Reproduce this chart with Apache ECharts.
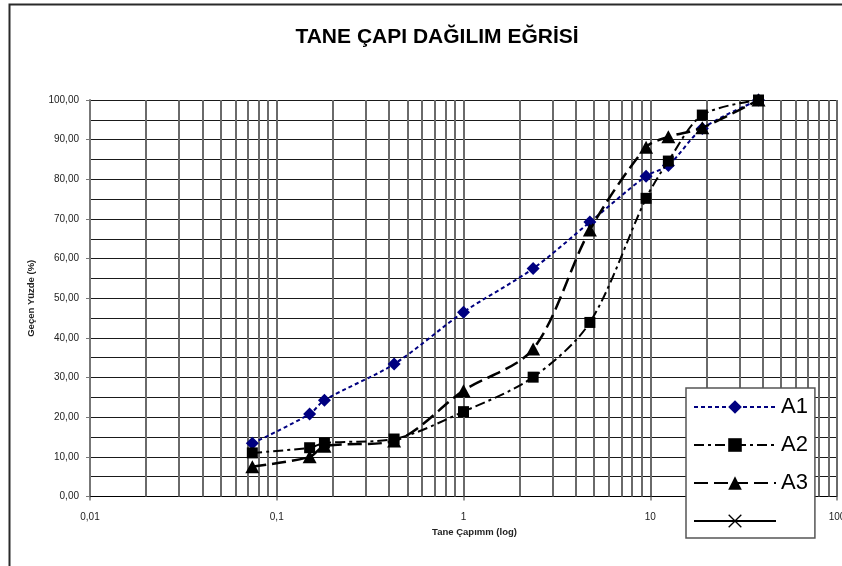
<!DOCTYPE html>
<html>
<head>
<meta charset="utf-8">
<title>TANE ÇAPI DAĞILIM EĞRİSİ</title>
<script src="https://cdn.jsdelivr.net/npm/echarts@6/dist/echarts.min.js"></script>
<style>
  html, body { margin: 0; padding: 0; background: #fff; }
  #chart { width: 842px; height: 566px; }
</style>
</head>
<body>
<div id="chart"></div>
<script>
// Sieve openings (mm) and percent passing for each sample
const sieveSizes = [0.074, 0.15, 0.18, 0.425, 1.0, 2.36, 4.75, 9.5, 12.5, 19, 38];
const passA1 = [13.4, 20.8, 24.3, 33.4, 46.5, 57.5, 69.2, 80.8, 83.5, 92.8, 100];
const passA2 = [11.0, 12.3, 13.5, 14.5, 21.4, 30.1, 43.9, 75.2, 84.6, 96.2, 100];
const passA3 = [7.5, 10.0, 12.7, 14.0, 26.7, 37.2, 67.2, 88.1, 90.7, 93.0, 100];
const passA4 = [];

// Axis ranges and log-paper grid
const xMin = 0.01, xMax = 100;
const decades = [0.01, 0.1, 1, 10];
const subMultipliers = [2, 3, 4, 5, 6, 7, 8, 9];

const titleText = 'TANE ÇAPI DAĞILIM EĞRİSİ';
const xName = 'Tane Çapımm (log)';
const yName = 'Geçen Yüzde (%)';
const seriesNames = ['A1', 'A2', 'A3', ' '];

const pairs = (xs, ys) => ys.map((y, i) => [xs[i], y]);

const minorLines = [];
decades.forEach(d => subMultipliers.forEach(m => minorLines.push({ xAxis: +(d * m).toPrecision(6) })));

const fmtComma = v => String(+(+v).toPrecision(6)).replace('.', ',');

const chart = echarts.init(document.getElementById('chart'), null, { renderer: 'canvas' });

chart.setOption({
  animation: false,
  backgroundColor: '#fff',
  textStyle: { fontFamily: 'Liberation Sans, Arial, sans-serif' },
  title: {
    text: titleText,
    left: 432, top: 22,
    textAlign: 'center',
    textStyle: { fontSize: 21, fontWeight: 'bold', color: '#000', fontFamily: 'Liberation Sans, Arial, sans-serif' }
  },
  graphic: [{
    type: 'rect',
    left: 7, top: 2,
    shape: { width: 900, height: 620 },
    style: { fill: 'none', stroke: '#2a2a2a', lineWidth: 2 },
    silent: true, z: 100
  }],
  grid: { left: 90, right: 5, top: 100, bottom: 69.5, outerBoundsMode: 'none', containLabel: false },
  legend: {
    data: seriesNames,
    orient: 'vertical',
    left: 686, top: 388,
    itemWidth: 82, itemHeight: 17,
    itemGap: 16,
    padding: [8, 7, 6, 7],
    backgroundColor: '#fff',
    borderColor: '#555',
    borderWidth: 1.5,
    borderRadius: 0,
    textStyle: { fontSize: 22, color: '#000', fontFamily: 'Liberation Sans, Arial, sans-serif' },
    z: 20
  },
  xAxis: {
    type: 'log',
    logBase: 10,
    min: xMin, max: xMax,
    name: xName,
    nameLocation: 'middle',
    nameGap: 18,
    nameTextStyle: { fontSize: 9.5, fontWeight: 'bold', color: '#222', padding: [0, 0, 0, 22] },
    axisLine: { show: true, lineStyle: { color: '#000', width: 1 } },
    axisTick: { show: true, length: 4, lineStyle: { color: '#777', width: 1.5 } },
    axisLabel: { fontSize: 10, color: '#222', margin: 16, formatter: fmtComma },
    splitLine: { show: true, lineStyle: { color: '#6a6a6a', width: 2 } },
    minorTick: { show: false },
    minorSplitLine: { show: false }
  },
  yAxis: {
    type: 'value',
    min: 0, max: 100, interval: 10,
    name: yName,
    nameLocation: 'middle',
    nameGap: 54,
    nameTextStyle: { fontSize: 9.5, fontWeight: 'bold', color: '#222' },
    axisLine: { show: true, lineStyle: { color: '#777', width: 2 } },
    axisTick: { show: true, length: 4, lineStyle: { color: '#777', width: 1 } },
    axisLabel: { fontSize: 10, color: '#222', margin: 11, formatter: v => v.toFixed(2).replace('.', ',') },
    splitLine: { show: true, lineStyle: { color: '#1a1a1a', width: 1 } },
    minorTick: { show: false, splitNumber: 2 },
    minorSplitLine: { show: true, lineStyle: { color: '#1a1a1a', width: 1 } }
  },
  series: [
    {
      // log-paper sub-decade grid lines
      name: '__grid',
      type: 'line',
      data: [],
      silent: true,
      z: 1,
      markLine: {
        silent: true,
        symbol: ['none', 'none'],
        label: { show: false },
        lineStyle: { type: 'solid', color: '#6a6a6a', width: 2 },
        emphasis: { disabled: true },
        data: minorLines
      }
    },
    {
      name: seriesNames[0],
      type: 'line',
      smooth: 0.3,
      data: pairs(sieveSizes, passA1),
      symbol: 'path://M0,-1L1,0L0,1L-1,0Z',
      symbolSize: [13, 13],
      itemStyle: { color: '#000080' },
      lineStyle: { color: '#000080', width: 2, type: [4, 3] },
      z: 5
    },
    {
      name: seriesNames[1],
      type: 'line',
      smooth: 0.3,
      data: pairs(sieveSizes, passA2),
      symbol: 'rect',
      symbolSize: 11,
      itemStyle: { color: '#000' },
      lineStyle: { color: '#000', width: 2, type: [10, 4, 3, 4] },
      z: 6
    },
    {
      name: seriesNames[2],
      type: 'line',
      smooth: 0.3,
      data: pairs(sieveSizes, passA3),
      symbol: 'triangle',
      symbolSize: [14, 13],
      itemStyle: { color: '#000' },
      lineStyle: { color: '#000', width: 2.5, type: [14, 6] },
      z: 7
    },
    {
      name: seriesNames[3],
      type: 'line',
      data: passA4,
      symbol: 'path://M-1,-0.86L-0.86,-1L0,-0.14L0.86,-1L1,-0.86L0.14,0L1,0.86L0.86,1L0,0.14L-0.86,1L-1,0.86L-0.14,0Z',
      symbolSize: 12,
      itemStyle: { color: '#000' },
      lineStyle: { color: '#000', width: 1.5, type: 'solid' },
      z: 8
    }
  ]
});
</script>
</body>
</html>
